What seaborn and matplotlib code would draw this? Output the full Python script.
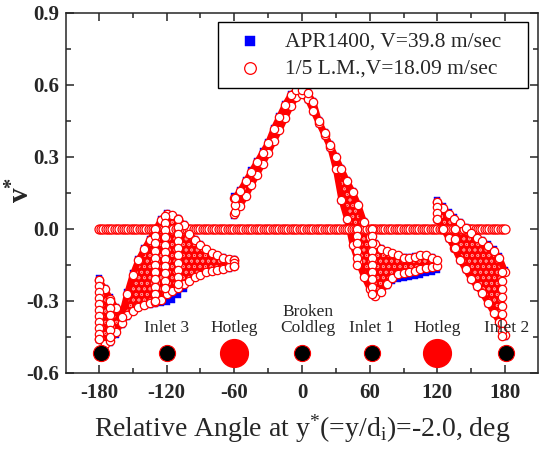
import numpy as np
import matplotlib
matplotlib.use("Agg")
import matplotlib.pyplot as plt
import seaborn as sns
from matplotlib.ticker import MultipleLocator

# ---------------- data ----------------
# v* = 0 line
zero_angle = list(np.arange(-180, 180.1, 2.0))
zero_v = [0.0] * len(zero_angle)

# left band (-180 .. -60)
left_angle = [-180, -175, -170, -165, -160, -155, -150, -145, -140, -135, -130, -125,
              -120, -115, -110, -105, -100, -95, -90, -85, -80, -75, -70, -65, -60]
left_red_hi = [-0.212, -0.25, -0.29, -0.33, -0.365, -0.27, -0.19, -0.13, -0.085, -0.045,
               -0.005, 0.038, 0.063, 0.058, 0.042, 0.018, -0.02, -0.045, -0.065, -0.085,
               -0.10, -0.11, -0.12, -0.125, -0.13]
left_red_lo = [-0.458, -0.478, -0.468, -0.43, -0.39, -0.36, -0.34, -0.325, -0.315, -0.31,
               -0.305, -0.295, -0.27, -0.26, -0.245, -0.23, -0.215, -0.20, -0.19, -0.18,
               -0.175, -0.17, -0.165, -0.16, -0.155]
left_blue_hi = [-0.204, -0.244, -0.284, -0.324, -0.36, -0.264, -0.185, -0.125, -0.081, -0.042,
                -0.003, 0.04, 0.065, 0.06, 0.044, 0.02, -0.018, -0.043, -0.063, -0.083,
                -0.098, -0.108, -0.118, -0.123, -0.126]
left_blue_lo = [-0.464, -0.486, -0.476, -0.44, -0.398, -0.368, -0.346, -0.331, -0.32, -0.316,
                -0.313, -0.31, -0.305, -0.295, -0.275, -0.25, -0.222, -0.206, -0.195, -0.185,
                -0.18, -0.175, -0.17, -0.165, -0.16]

# central band (-60 .. 120)
mid_angle = [-60, -55, -50, -45, -40, -35, -30, -25, -20, -15, -10, -5, 0, 5, 10, 15, 20,
             25, 30, 35, 40, 45, 50, 55, 60, 65, 70, 75, 80, 85, 90, 95, 100, 105, 110,
             115, 120]
mid_red_hi = [0.128, 0.158, 0.198, 0.238, 0.278, 0.318, 0.358, 0.418, 0.468, 0.518, 0.558,
              0.578, 0.578, 0.568, 0.528, 0.448, 0.398, 0.348, 0.298, 0.248, 0.198, 0.153,
              0.098, 0.028, -0.032, -0.062, -0.082, -0.092, -0.10, -0.11, -0.12, -0.12,
              -0.115, -0.11, -0.11, -0.12, -0.13]
mid_red_lo = [0.062, 0.097, 0.137, 0.182, 0.227, 0.272, 0.317, 0.367, 0.412, 0.462, 0.512,
              0.552, 0.562, 0.542, 0.492, 0.442, 0.392, 0.342, 0.252, 0.122, 0.042, -0.068,
              -0.138, -0.198, -0.248, -0.278, -0.263, -0.228, -0.203, -0.188, -0.183,
              -0.178, -0.173, -0.168, -0.163, -0.158, -0.153]
mid_blue_hi = [0.136, 0.164, 0.204, 0.244, 0.284, 0.323, 0.363, 0.422, 0.472, 0.521, 0.561,
               0.581, 0.581, 0.573, 0.534, 0.455, 0.405, 0.355, 0.305, 0.255, 0.205, 0.159,
               0.104, 0.033, -0.027, -0.059, -0.079, -0.09, -0.098, -0.108, -0.118, -0.118,
               -0.113, -0.108, -0.108, -0.118, -0.128]
mid_blue_lo = [0.056, 0.092, 0.132, 0.178, 0.223, 0.268, 0.313, 0.363, 0.408, 0.458, 0.508,
               0.548, 0.558, 0.538, 0.488, 0.438, 0.388, 0.338, 0.248, 0.118, 0.038, -0.072,
               -0.142, -0.202, -0.252, -0.282, -0.267, -0.236, -0.218, -0.21, -0.205,
               -0.2, -0.195, -0.19, -0.185, -0.18, -0.172]

# right band (120 .. 180)
right_angle = [120, 125, 130, 135, 140, 145, 150, 155, 160, 165, 170, 175, 180]
right_red_hi = [0.113, 0.088, 0.063, 0.043, 0.023, 0.003, -0.017, -0.037, -0.052, -0.072,
                -0.092, -0.12, -0.178]
right_red_lo = [0.042, 0.002, -0.038, -0.078, -0.128, -0.168, -0.208, -0.238, -0.268,
                -0.308, -0.348, -0.388, -0.443]
right_blue_hi = [0.122, 0.096, 0.071, 0.05, 0.03, 0.01, -0.01, -0.03, -0.044, -0.064,
                 -0.084, -0.111, -0.17]
right_blue_lo = [0.038, -0.002, -0.042, -0.082, -0.132, -0.172, -0.212, -0.242, -0.272,
                 -0.312, -0.352, -0.392, -0.448]

# vertical stacks of points
stack_angle = ([-180] * 11 + [-170] * 6 + [-130] * 11 + [-121] * 11 + [-110] * 10 +
               [-60] * 3 + [-59] * 3 + [49] * 6 + [62] * 10 + [120] * 4 + [136] * 3 +
               [177] * 9)
stack_v = ([-0.212, -0.237, -0.262, -0.287, -0.312, -0.337, -0.362, -0.387, -0.412, -0.437, -0.458] +
           [-0.30, -0.33, -0.36, -0.39, -0.42, -0.45] +
           [0.0, -0.03, -0.06, -0.09, -0.12, -0.15, -0.18, -0.21, -0.24, -0.27, -0.30] +
           [0.055, 0.025, -0.005, -0.035, -0.065, -0.095, -0.125, -0.155, -0.185, -0.215, -0.245] +
           [0.04, 0.01, -0.02, -0.05, -0.08, -0.11, -0.14, -0.17, -0.20, -0.23] +
           [-0.13, -0.143, -0.155] +
           [0.07, 0.10, 0.128] +
           [0.0, -0.03, -0.06, -0.09, -0.12, -0.15] +
           [0.0, -0.03, -0.06, -0.09, -0.12, -0.15, -0.18, -0.21, -0.24, -0.27] +
           [0.113, 0.09, 0.065, 0.042] +
           [0.0, -0.04, -0.08] +
           [-0.18, -0.215, -0.25, -0.285, -0.32, -0.355, -0.39, -0.425, -0.445])

# location markers along the bottom
loc_angle = [-178, -120, -60, 0, 62, 120, 181]
loc_kind = ["inlet", "inlet", "hot", "inlet", "inlet", "hot", "inlet"]
label_angle = [-120, -60, 5, 62, 120, 181]
label_text = ["Inlet 3", "Hotleg", "Broken\nColdleg", "Inlet 1", "Hotleg", "Inlet 2"]

# ---------------- style ----------------
sns.set_style("ticks")
plt.rcParams["font.family"] = ["Liberation Serif", "DejaVu Serif"]
plt.rcParams["mathtext.fontset"] = "custom"
plt.rcParams["mathtext.rm"] = "Liberation Serif"
plt.rcParams["mathtext.it"] = "Liberation Serif:italic"
plt.rcParams["mathtext.bf"] = "Liberation Serif:bold"
plt.rcParams["hatch.linewidth"] = 0.5

fig = plt.figure(figsize=(5.40, 4.54), dpi=100)
ax = fig.add_axes([66 / 540, 1 - 373 / 454, 472 / 540, 360 / 454])

RED = "#ff0000"
BLUE = "#0000ff"
MS = 36

segments = [
    (left_angle, left_blue_lo, left_blue_hi, left_red_lo, left_red_hi),
    (mid_angle, mid_blue_lo, mid_blue_hi, mid_red_lo, mid_red_hi),
    (right_angle, right_blue_lo, right_blue_hi, right_red_lo, right_red_hi),
]

# APR1400 (blue squares) underneath
for i, (ang, blo, bhi, rlo, rhi) in enumerate(segments):
    ax.fill_between(ang, blo, bhi, facecolor=BLUE, edgecolor="none", zorder=1)
    for k, arr in enumerate((blo, bhi)):
        sns.scatterplot(x=ang, y=arr, marker="s", s=22, color=BLUE, edgecolor=BLUE,
                        linewidth=0.3, ax=ax, zorder=1.5,
                        label="APR1400, V=39.8 m/sec" if (i == 0 and k == 0) else None)

# 1/5 L.M. (red open circles)
for i, (ang, blo, bhi, rlo, rhi) in enumerate(segments):
    ax.fill_between(ang, rlo, rhi, facecolor=RED, edgecolor="#ff8c8c", hatch="ooo",
                    linewidth=0, zorder=2)
    for arr in (rlo, rhi):
        sns.lineplot(x=ang, y=arr, color=RED, linewidth=4.5, ax=ax, zorder=2.5,
                     estimator=None, sort=False, solid_capstyle="round",
                     solid_joinstyle="round")

sns.scatterplot(x=zero_angle, y=zero_v, marker="o", s=MS + 6, color="white", edgecolor=RED,
                linewidth=0.9, ax=ax, zorder=3)

for i, (ang, blo, bhi, rlo, rhi) in enumerate(segments):
    for k, arr in enumerate((rlo, rhi)):
        sns.scatterplot(x=ang, y=arr, marker="o", s=MS, color="white", edgecolor=RED,
                        linewidth=0.9, ax=ax, zorder=4,
                        label="1/5 L.M.,V=18.09 m/sec" if (i == 0 and k == 0) else None)

sns.scatterplot(x=stack_angle, y=stack_v, marker="o", s=MS, color="white", edgecolor=RED,
                linewidth=0.9, ax=ax, zorder=4.5)

# location symbols
for a, kind in zip(loc_angle, loc_kind):
    if kind == "hot":
        ax.scatter([a], [-0.517], s=400, color=RED, edgecolor=RED, zorder=5)
    else:
        ax.scatter([a], [-0.517], s=135, color="black", edgecolor=RED, linewidth=0.8, zorder=5)
for a, t in zip(label_angle, label_text):
    ax.text(a, -0.447, t, ha="center", va="bottom", fontsize=12.5, zorder=6,
            linespacing=1.0)

# axes
ax.set_xlim(-209.2, 209.2)
ax.set_ylim(-0.6, 0.9)
ax.xaxis.set_minor_locator(MultipleLocator(30))
ax.yaxis.set_minor_locator(MultipleLocator(0.15))
ax.set_xticks([-180, -120, -60, 0, 60, 120, 180])
ax.set_xticklabels(["-180", "-120", "-60", "0", "60", "120", "180"])
ax.set_yticks([-0.6, -0.3, 0.0, 0.3, 0.6, 0.9])
ax.set_yticklabels(["-0.6", "-0.3", "0.0", "0.3", "0.6", "0.9"])
ax.tick_params(which="both", direction="in", top=True, right=True, width=1.1,
               labelsize=15)
ax.tick_params(which="major", length=5.5)
ax.tick_params(which="minor", length=3.5)
ax.tick_params(axis="x", pad=7)
ax.tick_params(axis="y", pad=5)
for lab in ax.get_xticklabels() + ax.get_yticklabels():
    lab.set_fontweight("bold")
for sp in ax.spines.values():
    sp.set_linewidth(1.1)
    sp.set_visible(True)

ax.set_xlabel(r"Relative Angle at y$^{*}$(=y/d$_{\mathrm{i}}$)=-2.0, deg", fontsize=20)
ax.xaxis.set_label_coords(0.5, -0.11)
ax.set_ylabel(r"$\mathbf{v}^{\mathbf{*}}$", fontsize=21, fontweight="bold")
ax.yaxis.set_label_coords(-0.064, 0.508)

leg = ax.legend(loc="upper left", bbox_to_anchor=(0.322, 0.792, 0.657, 0.183),
                mode="expand", borderaxespad=0,
                fontsize=15.5, frameon=True, fancybox=False, shadow=False,
                edgecolor="black", framealpha=1, markerscale=1.4, handletextpad=0.59,
                labelspacing=0.3, borderpad=0.45, handlelength=2.07)
leg.get_frame().set_linewidth(1.0)
leg.set_zorder(10)

fig.savefig("out.png", dpi=100)
